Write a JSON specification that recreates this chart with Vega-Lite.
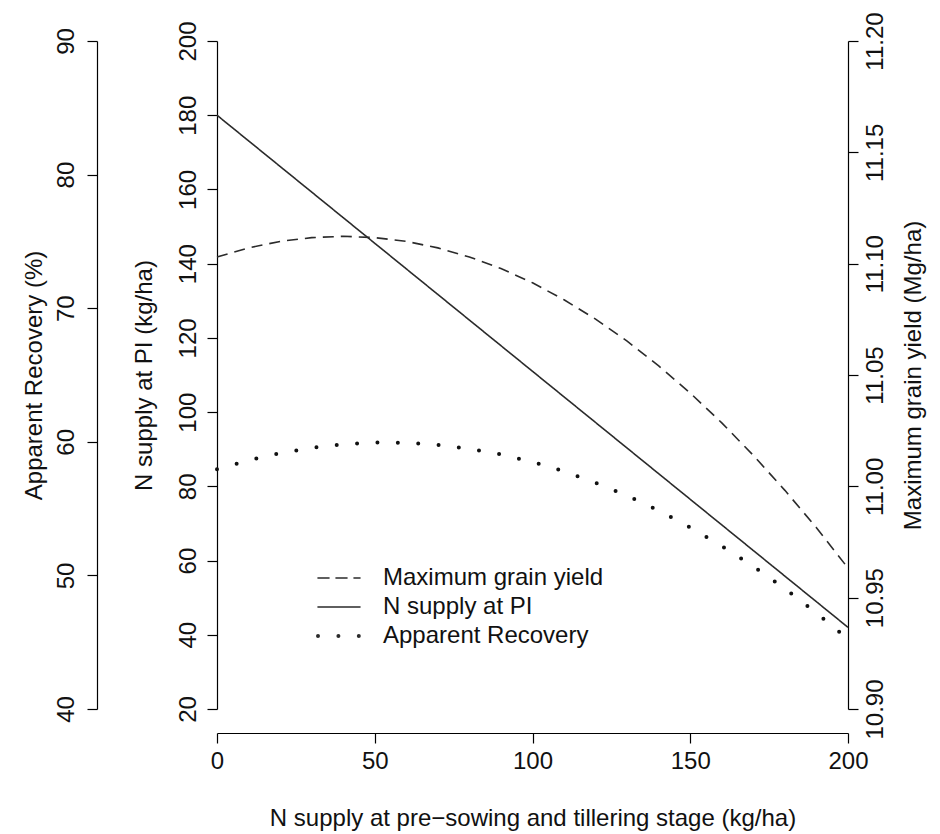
{
  "$schema": "https://vega.github.io/schema/vega-lite/v6.json",
  "autosize": {"type": "none"},
  "padding": {"left": 217, "top": 41, "right": 92, "bottom": 125},
  "width": 631,
  "height": 668,
  "background": "white",
  "config": {
    "view": {"stroke": null},
    "font": "Liberation Sans",
    "axis": {
      "grid": false,
      "domainColor": "#000000",
      "tickColor": "#000000",
      "domainWidth": 1.2,
      "tickWidth": 1.2,
      "tickSize": 10,
      "labelFont": "Liberation Sans",
      "labelFontSize": 24,
      "labelColor": "#111111",
      "labelFlush": false,
      "labelOverlap": false,
      "titleFont": "Liberation Sans",
      "titleFontSize": 24,
      "titleFontWeight": "normal",
      "titleColor": "#111111"
    },
    "legend": {
      "labelFont": "Liberation Sans",
      "labelFontSize": 24,
      "labelColor": "#111111",
      "labelLimit": 0
    }
  },
  "data": {
    "values": [
      {"n_early": 0, "yield": 11.1030, "n_pi": 180.0, "recovery": 57.94},
      {"n_early": 10, "yield": 11.1071, "n_pi": 173.1, "recovery": 58.61},
      {"n_early": 20, "yield": 11.1100, "n_pi": 166.2, "recovery": 59.15},
      {"n_early": 30, "yield": 11.1117, "n_pi": 159.3, "recovery": 59.55},
      {"n_early": 40, "yield": 11.1123, "n_pi": 152.4, "recovery": 59.82},
      {"n_early": 50, "yield": 11.1117, "n_pi": 145.5, "recovery": 59.94},
      {"n_early": 60, "yield": 11.1100, "n_pi": 138.6, "recovery": 59.93},
      {"n_early": 70, "yield": 11.1071, "n_pi": 131.7, "recovery": 59.77},
      {"n_early": 80, "yield": 11.1030, "n_pi": 124.8, "recovery": 59.48},
      {"n_early": 90, "yield": 11.0978, "n_pi": 117.9, "recovery": 59.06},
      {"n_early": 100, "yield": 11.0914, "n_pi": 111.0, "recovery": 58.49},
      {"n_early": 110, "yield": 11.0838, "n_pi": 104.1, "recovery": 57.79},
      {"n_early": 120, "yield": 11.0751, "n_pi": 97.2, "recovery": 56.94},
      {"n_early": 130, "yield": 11.0652, "n_pi": 90.3, "recovery": 55.97},
      {"n_early": 140, "yield": 11.0541, "n_pi": 83.4, "recovery": 54.85},
      {"n_early": 150, "yield": 11.0419, "n_pi": 76.5, "recovery": 53.59},
      {"n_early": 160, "yield": 11.0285, "n_pi": 69.6, "recovery": 52.20},
      {"n_early": 170, "yield": 11.0139, "n_pi": 62.7, "recovery": 50.67},
      {"n_early": 180, "yield": 10.9982, "n_pi": 55.8, "recovery": 49.00},
      {"n_early": 190, "yield": 10.9814, "n_pi": 48.9, "recovery": 47.19},
      {"n_early": 200, "yield": 10.9633, "n_pi": 42.0, "recovery": 45.24}
    ]
  },
  "encoding": {
    "x": {
      "field": "n_early",
      "type": "quantitative",
      "scale": {"domain": [0, 200], "nice": false, "zero": false},
      "axis": {
        "title": "N supply at pre−sowing and tillering stage (kg/ha)",
        "values": [0, 50, 100, 150, 200],
        "offset": 24,
        "labelPadding": 6,
        "titlePadding": 33
      }
    }
  },
  "layer": [
    {
      "mark": {"type": "line", "color": "#2b2b2b", "strokeWidth": 1.6, "strokeCap": "butt"},
      "encoding": {
        "y": {
          "field": "n_pi",
          "type": "quantitative",
          "scale": {"domain": [20, 200], "nice": false, "zero": false},
          "axis": {
            "orient": "left",
            "title": "N supply at PI (kg/ha)",
            "values": [20, 40, 60, 80, 100, 120, 140, 160, 180, 200],
            "labelAngle": -90,
            "labelAlign": "center",
            "labelBaseline": "alphabetic",
            "labelPadding": 12,
            "titlePadding": 20
          }
        },
        "strokeDash": {
          "datum": "N supply at PI",
          "type": "nominal",
          "scale": {
            "domain": ["Maximum grain yield", "N supply at PI", "Apparent Recovery"],
            "range": [[11, 7], [1, 0], [0, 20.4]]
          },
          "legend": {
            "title": null,
            "orient": "none",
            "legendX": 110,
            "legendY": 525,
            "padding": 0,
            "symbolType": "stroke",
            "symbolSize": 1764,
            "symbolStrokeColor": "#2b2b2b",
            "symbolStrokeWidth": 1.6,
            "labelOffset": 32,
            "rowPadding": 5,
            "encode": {
              "symbols": {
                "update": {
                  "strokeWidth": {"signal": "datum.value === 'Apparent Recovery' ? 4 : 1.6"},
                  "strokeCap": {"value": "round"}
                }
              }
            }
          }
        }
      }
    },
    {
      "mark": {"type": "line", "color": "#2b2b2b", "strokeWidth": 1.6},
      "encoding": {
        "y": {
          "field": "yield",
          "type": "quantitative",
          "scale": {"domain": [10.9, 11.2], "nice": false, "zero": false},
          "axis": {
            "orient": "right",
            "title": "Maximum grain yield (Mg/ha)",
            "values": [10.9, 10.95, 11.0, 11.05, 11.1, 11.15, 11.2],
            "format": ".2f",
            "labelAngle": -90,
            "labelAlign": "center",
            "labelBaseline": "top",
            "labelPadding": 5,
            "titleAngle": -90,
            "titleBaseline": "top",
            "titlePadding": 14
          }
        },
        "strokeDash": {"datum": "Maximum grain yield", "type": "nominal"}
      }
    },
    {
      "mark": {"type": "line", "color": "#111111", "strokeWidth": 4, "strokeCap": "round"},
      "encoding": {
        "y": {
          "field": "recovery",
          "type": "quantitative",
          "scale": {"domain": [40, 90], "nice": false, "zero": false},
          "axis": {
            "orient": "left",
            "offset": 120,
            "title": "Apparent Recovery (%)",
            "values": [40, 50, 60, 70, 80, 90],
            "labelAngle": -90,
            "labelAlign": "center",
            "labelBaseline": "alphabetic",
            "labelPadding": 14,
            "titlePadding": 8
          }
        },
        "strokeDash": {"datum": "Apparent Recovery", "type": "nominal"}
      }
    }
  ],
  "resolve": {"scale": {"y": "independent"}}
}
